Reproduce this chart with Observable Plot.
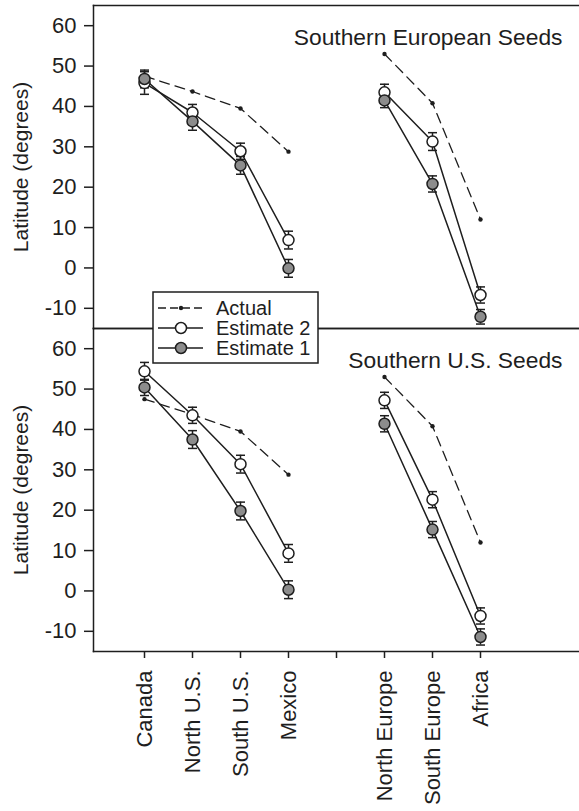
<!DOCTYPE html>
<html>
<head>
<meta charset="utf-8">
<script src="https://cdn.jsdelivr.net/npm/d3@7"></script>
<script src="https://cdn.jsdelivr.net/npm/@observablehq/plot@0.6"></script>
<style>
  html, body { margin: 0; padding: 0; background: #fff; }
  #wrap { position: relative; width: 579px; height: 811px; font-family: "Liberation Sans", Arial, sans-serif; }
</style>
</head>
<body>
<div id="wrap"></div>
<script>
const panels = ["Southern European Seeds", "Southern U.S. Seeds"];
const regions = ["Canada", "North U.S.", "South U.S.", "Mexico", "North Europe", "South Europe", "Africa"];
const continent = ["Americas", "Americas", "Americas", "Americas", "Old World", "Old World", "Old World"];
const xDomain = ["Canada", "North U.S.", "South U.S.", "Mexico", "gap", "North Europe", "South Europe", "Africa", "end"];
const xTicks = ["Canada", "North U.S.", "South U.S.", "Mexico", "gap", "North Europe", "South Europe", "Africa"];
const yTicks = [-10, 0, 10, 20, 30, 40, 50, 60];
const yDomain = [-15, 65];

const actual    = [47.5, 43.7, 39.5, 28.8, 53.0, 40.8, 12.0];
const euEst2    = [45.8, 38.5, 28.9, 6.9, 43.5, 31.3, -6.7];
const euEst2Err = [2.8, 2.0, 2.0, 2.2, 2.0, 2.2, 2.0];
const euEst1    = [46.8, 36.3, 25.4, -0.1, 41.5, 20.8, -12.1];
const euEst1Err = [2.2, 2.2, 2.2, 2.2, 1.8, 2.0, 1.8];
const usEst2    = [54.4, 43.5, 31.4, 9.3, 47.2, 22.6, -6.2];
const usEst2Err = [2.2, 2.0, 2.2, 2.2, 2.0, 2.0, 2.0];
const usEst1    = [50.4, 37.5, 19.8, 0.3, 41.4, 15.2, -11.4];
const usEst1Err = [2.0, 2.2, 2.2, 2.2, 2.0, 2.0, 2.0];

const seriesNames = ["Actual", "Estimate 2", "Estimate 1"];

function rowsFor(panel, series, values, errs) {
  return values.map((v, i) => ({
    panel, series, region: regions[i], group: continent[i], value: v, err: errs ? errs[i] : 0
  }));
}

const rows = [
  ...rowsFor(panels[0], "Actual", actual),
  ...rowsFor(panels[0], "Estimate 2", euEst2, euEst2Err),
  ...rowsFor(panels[0], "Estimate 1", euEst1, euEst1Err),
  ...rowsFor(panels[1], "Actual", actual),
  ...rowsFor(panels[1], "Estimate 2", usEst2, usEst2Err),
  ...rowsFor(panels[1], "Estimate 1", usEst1, usEst1Err)
];
const act = rows.filter(d => d.series === "Actual");
const e2 = rows.filter(d => d.series === "Estimate 2");
const e1 = rows.filter(d => d.series === "Estimate 1");
const est = rows.filter(d => d.series !== "Actual");

const ink = "#1e1e1e";
const gray = "#8c8c8c";
const capSymbol = { draw(ctx) { ctx.moveTo(-4.5, 0); ctx.lineTo(4.5, 0); } };

const chart = Plot.plot({
  width: 579,
  height: 811,
  marginTop: 5,
  marginBottom: 160,
  marginLeft: 93,
  marginRight: 0,
  style: { fontFamily: "Liberation Sans, Arial, sans-serif", color: ink, background: "white" },
  x: { type: "point", domain: xDomain, padding: 1 },
  y: { domain: yDomain },
  fy: { domain: panels, padding: 0, axis: null },
  marks: [
    Plot.frame({ anchor: "left", stroke: ink, strokeWidth: 1.5 }),
    Plot.frame({ anchor: "top", stroke: ink, strokeWidth: 1.5 }),
    Plot.frame({ anchor: "bottom", stroke: ink, strokeWidth: 1.5 }),
    Plot.axisY({ ticks: yTicks, tickFormat: d => `${d}`, tickSize: 9, tickPadding: 8, fontSize: 22, label: null,
                 stroke: ink, strokeWidth: 1.5 }),
    Plot.axisX({ anchor: "bottom", ticks: xTicks, tickFormat: d => (d === "gap" ? "" : d), tickRotate: -90,
                 tickSize: 7, tickPadding: 12, fontSize: 22, label: null, stroke: ink, strokeWidth: 1.5 }),
    Plot.text(panels, { fy: d => d, text: () => "Latitude (degrees)", frameAnchor: "left", textAnchor: "middle",
                        lineAnchor: "middle", rotate: -90, dx: -72, fontSize: 21, fill: ink }),
    Plot.text(panels, { fy: d => d, text: d => d, frameAnchor: "top-right", textAnchor: "end", lineAnchor: "middle",
                        dx: -17, dy: 32, fontSize: 22.8, fill: ink }),
    Plot.line(act, { x: "region", y: "value", fy: "panel", z: "group", stroke: ink, strokeWidth: 1.3, strokeDasharray: "10,6" }),
    Plot.line(e2, { x: "region", y: "value", fy: "panel", z: "group", stroke: ink, strokeWidth: 1.5 }),
    Plot.line(e1, { x: "region", y: "value", fy: "panel", z: "group", stroke: ink, strokeWidth: 1.5 }),
    Plot.ruleX(est, { x: "region", y1: d => d.value - d.err, y2: d => d.value + d.err, fy: "panel", stroke: ink, strokeWidth: 1.5 }),
    Plot.dot(est, { x: "region", y: d => d.value + d.err, fy: "panel", symbol: capSymbol, stroke: ink, strokeWidth: 1.5, fill: "none" }),
    Plot.dot(est, { x: "region", y: d => d.value - d.err, fy: "panel", symbol: capSymbol, stroke: ink, strokeWidth: 1.5, fill: "none" }),
    Plot.dot(act, { x: "region", y: "value", fy: "panel", r: 2.2, fill: ink }),
    Plot.dot(e2, { x: "region", y: "value", fy: "panel", r: 5.5, fill: "white", stroke: ink, strokeWidth: 1.5 }),
    Plot.dot(e1, { x: "region", y: "value", fy: "panel", r: 5.5, fill: gray, stroke: ink, strokeWidth: 1.5 })
  ]
});

const wrap = document.getElementById("wrap");
wrap.appendChild(chart);

// Legend overlay (inside the plot area, as in the reference)
const lg = d3.create("svg").attr("width", 579).attr("height", 811)
  .style("position", "absolute").style("left", "0px").style("top", "0px").style("pointer-events", "none");
const g = lg.append("g").attr("transform", "translate(153,292)");
g.append("rect").attr("width", 165).attr("height", 71).attr("fill", "white").attr("stroke", ink).attr("stroke-width", 1.5);
seriesNames.forEach((name, i) => {
  const y = 16 + i * 20;
  g.append("line").attr("x1", 5).attr("x2", 50).attr("y1", y).attr("y2", y)
    .attr("stroke", ink).attr("stroke-width", 1.4).attr("stroke-dasharray", name === "Actual" ? "8,4" : null);
  if (name === "Actual") {
    g.append("circle").attr("cx", 28).attr("cy", y).attr("r", 2.2).attr("fill", ink);
  } else {
    g.append("circle").attr("cx", 28).attr("cy", y).attr("r", 5.5)
      .attr("fill", name === "Estimate 2" ? "white" : gray).attr("stroke", ink).attr("stroke-width", 1.5);
  }
  g.append("text").attr("x", 63).attr("y", y).attr("dy", "0.36em")
    .attr("font-family", "Liberation Sans, Arial, sans-serif").attr("font-size", 20).attr("fill", ink).text(name);
});
wrap.appendChild(lg.node());
</script>
</body>
</html>
